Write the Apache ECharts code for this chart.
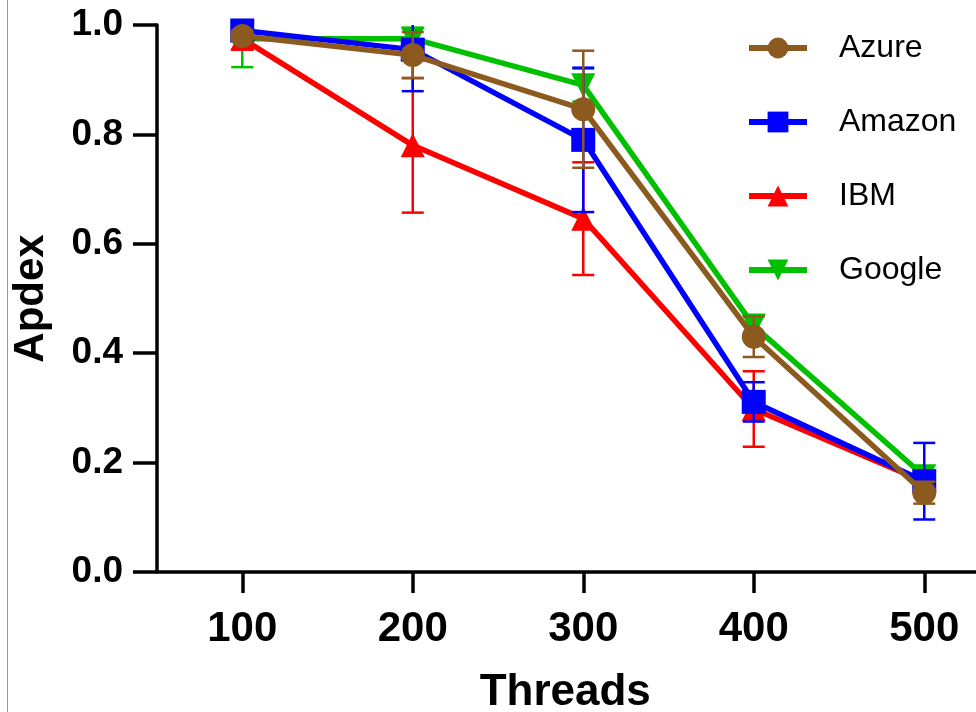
<!DOCTYPE html>
<html>
<head>
<meta charset="utf-8">
<script src="https://cdn.jsdelivr.net/npm/echarts@6/dist/echarts.min.js"></script>
<style>
  html, body { margin: 0; padding: 0; background: #fff; }
  #chart { width: 976px; height: 712px; }
</style>
</head>
<body>
<div id="chart"></div>
<script>
// Thread counts on the x axis
const threads = ['100', '200', '300', '400', '500'];

// Mean Apdex per provider and the matching error half-widths
const azure = [0.980, 0.945, 0.846, 0.430, 0.145];
const azureErr = [0.010, 0.042, 0.107, 0.037, 0.020];

const amazon = [0.990, 0.955, 0.790, 0.311, 0.166];
const amazonErr = [0.010, 0.076, 0.132, 0.036, 0.070];

const ibm = [0.975, 0.780, 0.646, 0.298, 0.165];
const ibmErr = [0.020, 0.123, 0.103, 0.069, 0.015];

const google = [0.975, 0.975, 0.890, 0.450, 0.175];
const googleErr = [0.052, 0.020, 0.030, 0.020, 0.010];

const yTicks = [0, 0.2, 0.4, 0.6, 0.8, 1.0];

const COLORS = { Azure: '#8c5a1e', Amazon: '#0000ff', IBM: '#ff0000', Google: '#00c000' };
const FONT = 'Liberation Sans, Arial, Helvetica, sans-serif';

// Vertical error bar with caps, one per category
function errorSeries(name, means, errs, z) {
  const color = COLORS[name];
  return {
    type: 'custom',
    name: name + ' error',
    z: z,
    silent: true,
    clip: true,
    data: means.map((m, i) => [i, m - errs[i], m + errs[i]]),
    renderItem: function (params, api) {
      const lo = api.coord([api.value(0), api.value(1)]);
      const hi = api.coord([api.value(0), api.value(2)]);
      const cap = 11;
      const style = { stroke: color, lineWidth: 2.5 };
      return {
        type: 'group',
        children: [
          { type: 'line', shape: { x1: lo[0], y1: lo[1], x2: hi[0], y2: hi[1] }, style: style },
          { type: 'line', shape: { x1: lo[0] - cap, y1: lo[1], x2: lo[0] + cap, y2: lo[1] }, style: style },
          { type: 'line', shape: { x1: hi[0] - cap, y1: hi[1], x2: hi[0] + cap, y2: hi[1] }, style: style }
        ]
      };
    }
  };
}

function lineSeries(name, values, symbol, z, rotate) {
  const color = COLORS[name];
  return {
    type: 'line',
    name: name,
    z: z,
    data: values,
    symbol: symbol,
    symbolSize: 24,
    symbolRotate: rotate || 0,
    showAllSymbol: true,
    color: color,
    lineStyle: { color: color, width: 5.5 },
    itemStyle: { color: color, borderWidth: 0 },
    emphasis: { disabled: true },
    animation: false
  };
}

const chart = echarts.init(document.getElementById('chart'), null, { renderer: 'canvas' });

chart.setOption({
  backgroundColor: '#ffffff',
  animation: false,
  grid: { left: 157, right: -33.5, top: 25, bottom: 140, containLabel: false, outerBoundsMode: 'none' },
  legend: {
    orient: 'vertical',
    left: 741,
    top: 27,
    itemWidth: 58,
    itemHeight: 26,
    itemGap: 42,
    data: ['Azure', 'Amazon', 'IBM', 'Google'],
    lineStyle: { width: 6 },
    textStyle: { fontFamily: FONT, fontSize: 32, color: '#000', padding: [0, 0, 0, 27] },
    selectedMode: false
  },
  xAxis: {
    type: 'category',
    data: threads,
    boundaryGap: true,
    name: 'Threads',
    nameLocation: 'middle',
    nameGap: 99,
    nameMoveOverlap: false,
    nameTextStyle: { fontFamily: FONT, fontSize: 44, fontWeight: 'bold', color: '#000', padding: [0, 36, 0, 0] },
    axisLine: { lineStyle: { color: '#000', width: 3.5 } },
    axisTick: { show: true, alignWithLabel: true, length: 21, lineStyle: { color: '#000', width: 3.5 } },
    axisLabel: { fontFamily: FONT, fontSize: 42, fontWeight: 'bold', color: '#000', margin: 36 },
    splitLine: { show: false }
  },
  yAxis: {
    type: 'value',
    min: yTicks[0],
    max: yTicks[yTicks.length - 1],
    interval: 0.2,
    name: 'Apdex',
    nameLocation: 'middle',
    nameGap: 105,
    nameMoveOverlap: false,
    nameTextStyle: { fontFamily: FONT, fontSize: 42, fontWeight: 'bold', color: '#000' },
    axisLine: { show: true, lineStyle: { color: '#000', width: 3.5 } },
    axisTick: { show: true, length: 24, lineStyle: { color: '#000', width: 3.5 } },
    axisLabel: {
      fontFamily: FONT, fontSize: 37, fontWeight: 'bold', color: '#000', margin: 34,
      formatter: v => v.toFixed(1)
    },
    splitLine: { show: false }
  },
  graphic: [
    { type: 'line', shape: { x1: 7.5, y1: 0, x2: 7.5, y2: 712 }, style: { stroke: '#9a9a9a', lineWidth: 1 }, silent: true }
  ],
  series: [
    errorSeries('Google', google, googleErr, 2),
    lineSeries('Google', google, 'triangle', 2, 180),
    errorSeries('IBM', ibm, ibmErr, 3),
    lineSeries('IBM', ibm, 'triangle', 3),
    errorSeries('Amazon', amazon, amazonErr, 4),
    lineSeries('Amazon', amazon, 'rect', 4),
    errorSeries('Azure', azure, azureErr, 5),
    lineSeries('Azure', azure, 'circle', 5)
  ]
});
</script>
</body>
</html>
